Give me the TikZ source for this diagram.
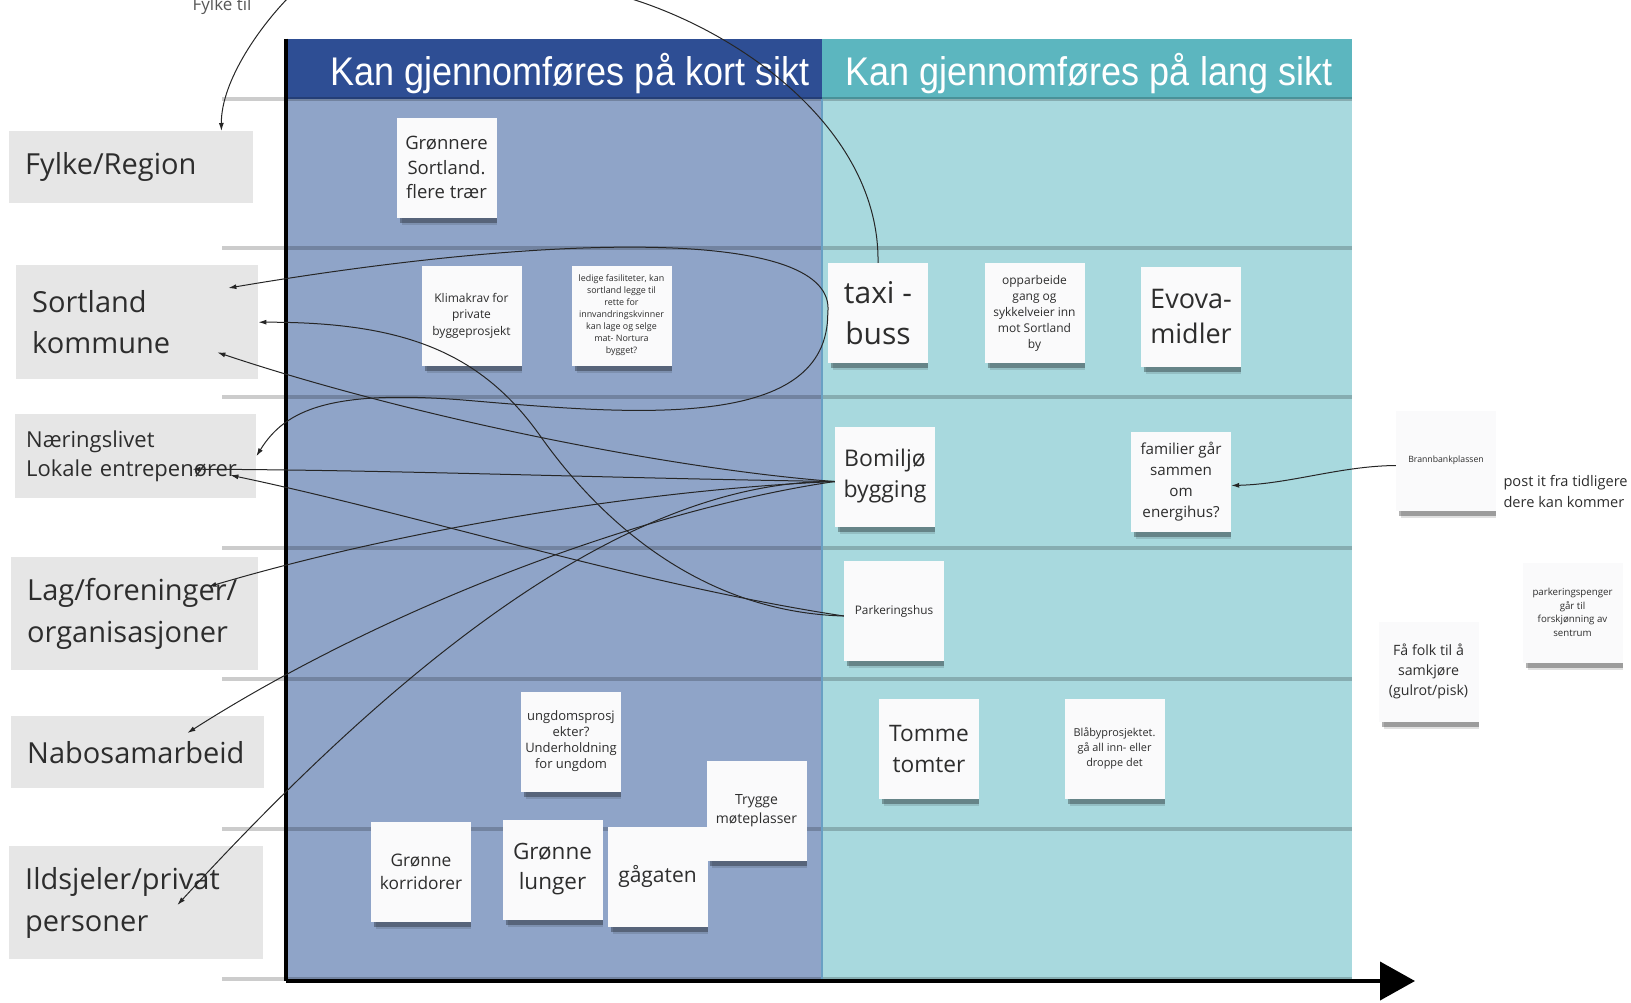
\documentclass[tikz,border=0pt]{standalone}
\usepackage{fontspec}
\setmainfont{Open Sans}
\newfontfamily\overskrift{Liberation Sans}
\usetikzlibrary{arrows.meta,shadows}
\definecolor{kortmork}{RGB}{46,78,148}
\definecolor{langmork}{RGB}{92,182,191}
\definecolor{kortlys}{RGB}{143,164,200}
\definecolor{langlys}{RGB}{168,217,222}
\definecolor{radgraa}{RGB}{230,230,230}
\definecolor{lappfarge}{RGB}{250,250,251}
\definecolor{tekstfarge}{RGB}{45,45,45}
\definecolor{skille}{RGB}{105,160,196}
\newcommand{\skrift}[2]{\fontsize{#1}{#2}\selectfont}

\begin{document}
\begin{tikzpicture}[x=1pt,y=-1pt]
	\tikzstyle{pil}=[->,>={Latex[length=8pt,width=5pt]},line width=1pt,draw=black!85]
	\tikzstyle{linje}=[line width=1pt,draw=black!85]
	\tikzstyle{lapp}=[fill=lappfarge,text=tekstfarge,align=center,inner sep=2pt,
		minimum width=100pt,minimum height=100pt,
		drop shadow={shadow xshift=3pt,shadow yshift=-10pt,shadow scale=0.95,opacity=0.12,fill=black},
		drop shadow={shadow xshift=2pt,shadow yshift=-7pt,shadow scale=0.97,opacity=0.3,fill=black}]
	\tikzstyle{rad}=[fill=radgraa,text=tekstfarge,align=left,anchor=north west,inner xsep=16pt,inner ysep=0pt]
	\tikzstyle{tittel}=[text=white,font=\overskrift\skrift{40}{48}]
	\tikzstyle{radlinje}=[line width=4pt,draw=black,opacity=0.2]
	
	\def\Venstre{286}
	\def\Midt{822}
	\def\Hoyre{1352}
	\def\Topp{38.5}
	\def\Hode{99}
	\def\Bunn{979}
	
	\useasboundingbox (0,0) rectangle (1631,1002);
	
	% felt
	\fill[kortlys] (\Venstre,\Hode) rectangle (\Midt,\Bunn);
	\fill[langlys] (\Midt,\Hode) rectangle (\Hoyre,\Bunn);
	\fill[kortmork] (\Venstre,\Topp) rectangle (\Midt,\Hode);
	\fill[langmork] (\Midt,\Topp) rectangle (\Hoyre,\Hode);
	
	% rader
	\foreach \y in {99,248,397,548,679,829,979}
		\draw[radlinje] (222,\y) -- (\Hoyre,\y);
	\draw[skille,line width=2pt] (\Midt,\Hode) -- (\Midt,\Bunn);
	
	% akser
	\coordinate (ytopp) at (\Venstre,\Topp);
	\coordinate (origo) at (\Venstre,981);
	\coordinate (xende) at (1415,981);
	\draw[line width=4pt] (ytopp) -- (origo);
	\draw[line width=4pt,-{Triangle[length=35pt,width=38pt]}] (origo) -- (xende);
	
	\node[tittel] (kort) at (570,74) {\scalebox{0.9}[1]{Kan gjennomføres på kort sikt}};
	\node[tittel] (lang) at (1089,74) {\scalebox{0.9}[1]{Kan gjennomføres på lang sikt}};
	
	% rader til venstre
	\node[rad,text width=212pt,minimum height=72pt,font=\skrift{29}{41}] (fylke) at (9,131) {Fylke/Region};
	\node[rad,text width=210pt,minimum height=114pt,font=\skrift{29}{41}] (sortland) at (16,265) {Sortland\\kommune};
	\node[rad,inner xsep=11pt,text width=219pt,minimum height=84pt,font=\skrift{22}{29}] (naering) at (15,414) {Næringslivet\\Lokale entrepenører};
	\node[rad,text width=215pt,minimum height=113pt,font=\skrift{29}{42}] (lag) at (11,557) {Lag/foreninger/\\organisasjoner};
	\node[rad,text width=221pt,minimum height=72pt,font=\skrift{29}{41}] (nabo) at (11,716) {Nabosamarbeid};
	\node[rad,text width=222pt,minimum height=113pt,font=\skrift{29}{42}] (ildsjel) at (9,846) {Ildsjeler/privat\\personer};
	
	% lapper kort sikt
	\node[lapp,font=\skrift{18.5}{24.5}] (gronnere) at (446.5,167.5) {Grønnere\\Sortland.\\flere trær};
	\node[lapp,font=\skrift{12}{16.5}] (klimakrav) at (471.5,315.5) {Klimakrav for\\private\\byggeprosjekt};
	\node[lapp,font=\skrift{8.9}{12}] (ledige) at (621.5,315.5) {ledige fasiliteter, kan\\sortland legge til\\rette for\\innvandringskvinner\\kan lage og selge\\mat- Nortura\\bygget?};
	\node[lapp,font=\skrift{13}{16}] (ungdom) at (571,741.5) {ungdomsprosj\\ekter?\\Underholdning\\for ungdom};
	\node[lapp,font=\skrift{14}{19}] (trygge) at (756.5,811) {Trygge\\møteplasser};
	\node[lapp,font=\skrift{17.3}{23}] (korridor) at (421,871.5) {Grønne\\korridorer};
	\node[lapp,font=\skrift{22.5}{30}] (lunger) at (552.5,869.5) {Grønne\\lunger};
	\node[lapp,font=\skrift{21}{28}] (gagaten) at (657.5,876.5) {gågaten};
	
	% lapper lang sikt
	\node[lapp,font=\skrift{30}{40.5}] (taxi) at (878,313) {taxi -\\buss};
	\node[lapp,font=\skrift{12}{16}] (opparbeide) at (1034.5,313) {opparbeide\\gang og\\sykkelveier inn\\mot Sortland\\by};
	\node[lapp,font=\skrift{27}{35.5}] (evova) at (1191,316.5) {Evova-\\midler};
	\node[lapp,font=\skrift{23}{31}] (bomiljo) at (885,476.5) {Bomiljø\\bygging};
	\node[lapp,font=\skrift{15.2}{21}] (familier) at (1181,481.5) {familier går\\sammen\\om\\energihus?};
	\node[lapp,font=\skrift{11.8}{15}] (parkhus) at (894,611) {Parkeringshus};
	\node[lapp,font=\skrift{22.7}{31}] (tomme) at (929,748.5) {Tomme\\tomter};
	\node[lapp,font=\skrift{10.9}{15}] (blaaby) at (1114.5,748.5) {Blåbyprosjektet.\\gå all inn- eller\\droppe det};
	
	% lapper utenfor
	\node[lapp,font=\skrift{8.7}{11}] (brann) at (1446,460.5) {Brannbankplassen};
	\node[lapp,font=\skrift{9.7}{13.5}] (parkpenger) at (1572.5,612.5) {parkeringspenger\\går til\\forskjønning av\\sentrum};
	\node[lapp,font=\skrift{14.2}{20}] (samkjore) at (1428.5,671.5) {Få folk til å\\samkjøre\\(gulrot/pisk)};
	\node[text=tekstfarge,align=left,anchor=west,font=\skrift{14.6}{21}] (postit) at (1500,491.5) {post it fra tidligere\\dere kan kommer};
	\node[text=tekstfarge!80,font=\skrift{17}{20}] (fylketil) at (222,6) {Fylke til};
	
	% piler
	\coordinate (toppA) at (290,-4);
	\coordinate (toppB) at (622,-4);
	\draw[pil] (toppA) .. controls (262,24) and (221,80) .. ([xshift=-32pt]fylke.north east);
	\draw[linje] (toppB) .. controls (740,30) and (880,130) .. (taxi.north);
	\draw[pil] (taxi.west) .. controls (838,228) and (560,232) .. ([shift={(-30,23)}]sortland.north east);
	\draw[pil] (taxi.west) .. controls (828,430) and (640,415) .. (475,401) .. controls (330,388) and (285,410) .. (naering.east);
	\draw[pil] ([yshift=-5pt]parkhus.west) .. controls (700,612) and (600,520) .. (541,437) .. controls (480,350) and (400,322) .. (sortland.east);
	\draw[pil] ([yshift=-5pt]parkhus.west) .. controls (640,585) and (420,515) .. ([shift={(-26,19)}]naering.east);
	\draw[pil] ([yshift=-5pt]bomiljo.west) .. controls (680,470) and (420,420) .. ([shift={(-41,-27)}]sortland.south east);
	\draw[pil] ([yshift=-5pt]bomiljo.west) .. controls (600,478) and (400,470) .. ([shift={(-64,13)}]naering.east);
	\draw[pil] ([yshift=-5pt]bomiljo.west) .. controls (640,490) and (400,530) .. ([shift={(-50,-27)}]lag.east);
	\draw[pil] ([yshift=-5pt]bomiljo.west) .. controls (640,510) and (380,610) .. ([shift={(-77,17)}]nabo.north east);
	\draw[pil] ([yshift=-5pt]bomiljo.west) .. controls (640,480) and (420,640) .. ([shift={(-86,59)}]ildsjel.north east);
	\draw[pil] ([yshift=-5pt]brann.west) .. controls (1340,466) and (1290,484) .. ([yshift=-4pt]familier.east);
\end{tikzpicture}
\end{document}
